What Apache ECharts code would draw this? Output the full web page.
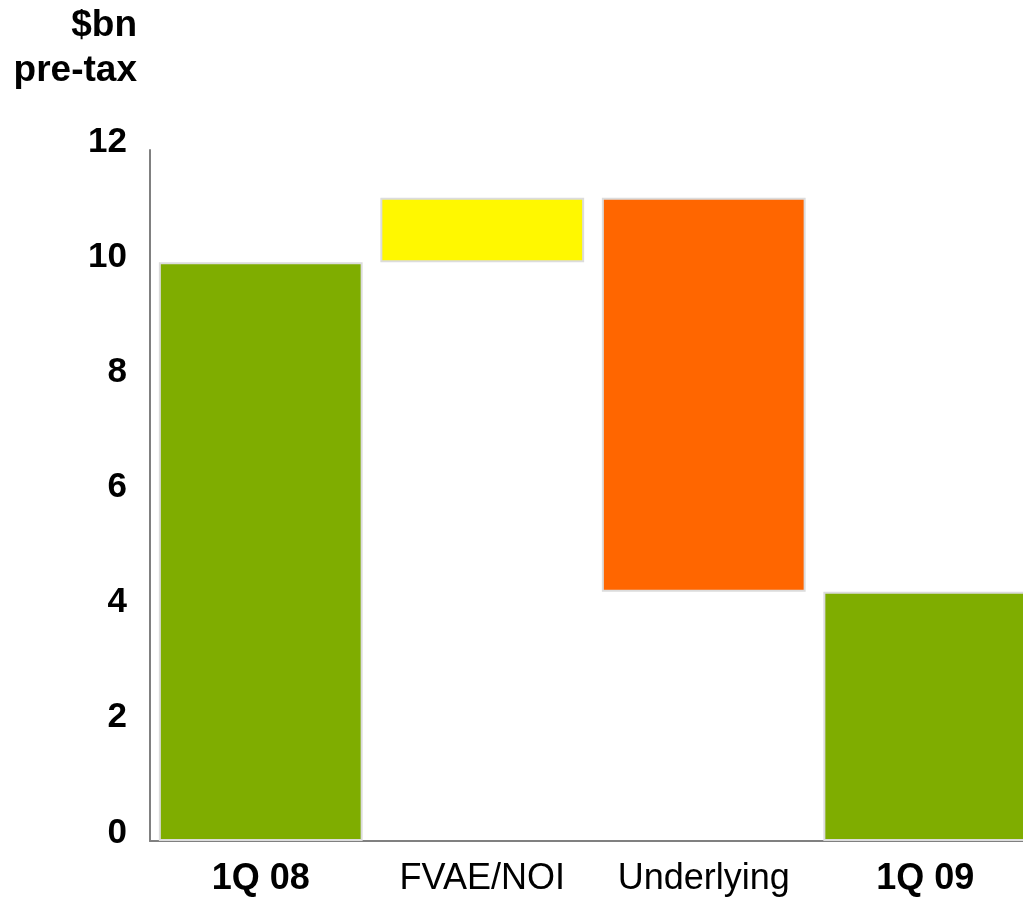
<!DOCTYPE html>
<html>
<head>
<meta charset="utf-8">
<script src="https://cdn.jsdelivr.net/npm/echarts@6/dist/echarts.min.js"></script>
<style>
  html, body { margin: 0; padding: 0; background: #fff; overflow: hidden; }
  #chart { width: 1036px; height: 897px; }
</style>
</head>
<body>
<div id="chart"></div>
<script>
// 数据
const categories = ['1Q 08', 'FVAE/NOI', 'Underlying', '1Q 09']
const barLow = [0, 10.05, 4.33, 0]
const barHigh = [10.05, 11.17, 11.17, 4.33]
const barColors = ['#7FAD00', '#FFF800', '#FF6600', '#7FAD00']
const boldLabels = ['1Q 08', '1Q 09']

const chart = echarts.init(document.getElementById('chart'))

const option = {
  animation: false,
  // 单位标题
  graphic: [
    {
      type: 'text',
      x: 137,
      y: 3,
      style: {
        text: '$bn\npre-tax',
        align: 'right',
        verticalAlign: 'top',
        font: 'bold 37px "Liberation Sans"',
        lineHeight: 45,
        fill: '#000'
      }
    }
  ],
  grid: {
    left: 150,
    top: 150,
    right: 0,
    height: 692
  },
  xAxis: {
    type: 'category',
    data: categories,
    axisLine: { lineStyle: { color: '#808080', width: 2 } },
    axisTick: { show: false },
    axisLabel: {
      margin: 20,
      fontFamily: 'Liberation Sans',
      fontSize: 36,
      color: '#000',
      interval: 0,
      formatter: v => boldLabels.includes(v) ? '{b|' + v + '}' : v,
      rich: {
        b: { fontFamily: 'Liberation Sans', fontSize: 36, fontWeight: 'bold', color: '#000' }
      }
    }
  },
  yAxis: {
    type: 'value',
    min: 0,
    max: 12,
    interval: 2,
    axisLine: { show: true, lineStyle: { color: '#808080', width: 2 } },
    axisTick: { show: false },
    splitLine: { show: false },
    axisLabel: {
      margin: 23,
      fontFamily: 'Liberation Sans',
      fontWeight: 'bold',
      fontSize: 35,
      color: '#000',
      verticalAlign: 'bottom',
      lineHeight: 16
    }
  },
  series: [
    {
      type: 'bar',
      stack: 'wf',
      barCategoryGap: '8%',
      itemStyle: { color: 'transparent' },
      data: barLow
    },
    {
      type: 'bar',
      stack: 'wf',
      barCategoryGap: '8%',
      data: barHigh.map((h, i) => ({
        value: +(h - barLow[i]).toFixed(2),
        itemStyle: { color: barColors[i], borderColor: '#dcdcdc', borderWidth: 2 }
      }))
    }
  ]
}

chart.setOption(option)
</script>
</body>
</html>
